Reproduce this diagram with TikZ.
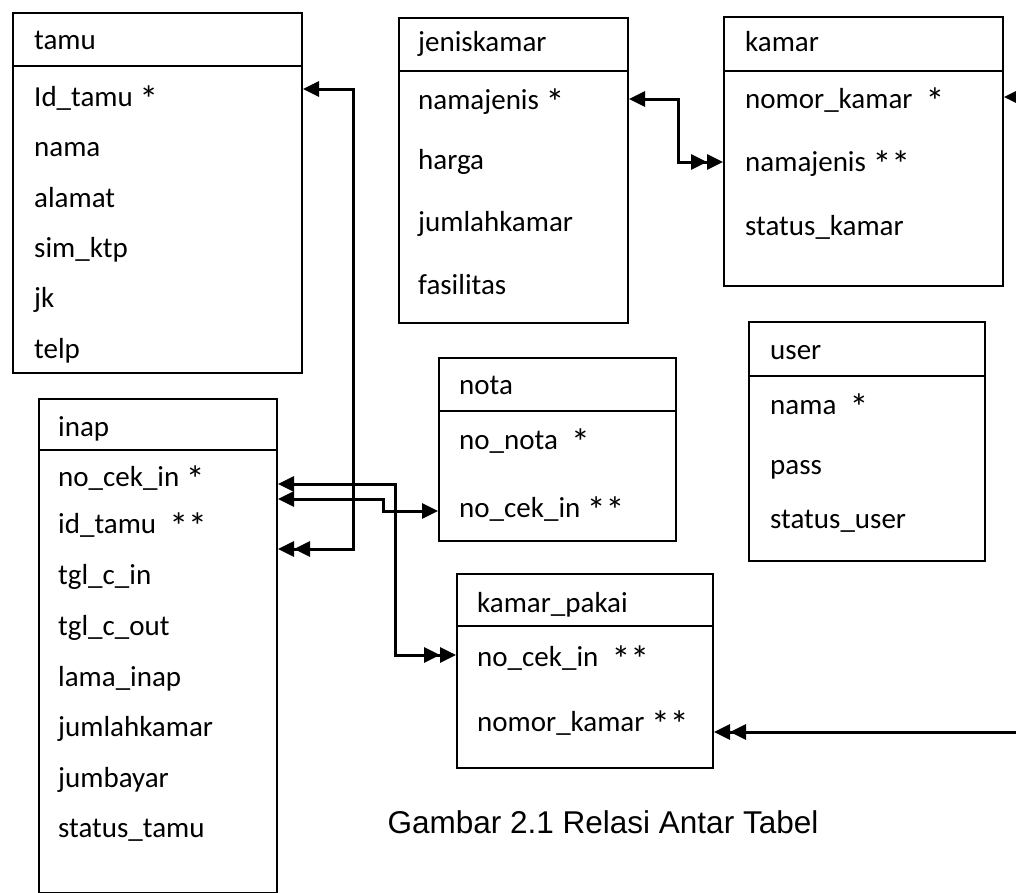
\documentclass[tikz,border=0pt]{standalone}
\usepackage{fontspec}
\usepackage{graphicx}
\setmainfont{Carlito}
\newfontfamily\capfont{Liberation Sans}
\usetikzlibrary{arrows.meta}
\newcommand\st{\smash{\raisebox{-0.22em}{\scalebox{1.3}{*}}}}
\begin{document}
\begin{tikzpicture}[x=1pt,y=-1pt,
  tbl/.style={draw=black,line width=2pt,anchor=north west,inner sep=0pt,fill=none},
  fld/.style={anchor=base west,inner sep=0pt,font=\fontsize{29}{31}\selectfont},
  conn/.style={line width=3pt,line cap=butt,line join=miter},
  T/.tip={Triangle[length=16pt,width=15pt]}
]
\useasboundingbox (0,0) rectangle (1016,892);
% tamu
\node[tbl,minimum width=289pt,minimum height=360pt] (tamu) at (12,12) {};
\draw[line width=2pt] (tamu.west |- 0,66) -- (tamu.east |- 0,66);
\node[fld] (tamuT) at (34,49) {tamu};
\node[fld] (tamu1) at (34,106) {Id\_tamu \st};
\node[fld] (tamu2) at (34,156) {nama};
\node[fld] (tamu3) at (34,207) {alamat};
\node[fld] (tamu4) at (34,257) {sim\_ktp};
\node[fld] (tamu5) at (34,307) {jk};
\node[fld] (tamu6) at (34,358) {telp};
% jeniskamar
\node[tbl,minimum width=229pt,minimum height=305pt] (jk) at (398,17) {};
\draw[line width=2pt] (jk.west |- 0,71) -- (jk.east |- 0,71);
\node[fld] (jkT) at (418,51) {jeniskamar};
\node[fld] (jk1) at (418,109) {namajenis \st};
\node[fld] (jk2) at (418,169) {harga};
\node[fld] (jk3) at (418,231) {jumlahkamar};
\node[fld] (jk4) at (418,294) {fasilitas};
% kamar
\node[tbl,minimum width=279pt,minimum height=269pt] (kamar) at (723,16) {};
\draw[line width=2pt] (kamar.west |- 0,71) -- (kamar.east |- 0,71);
\node[fld] (kamarT) at (745,51) {kamar};
\node[fld] (kamar1) at (745,108) {nomor\_kamar\ \ \st};
\node[fld] (kamar2) at (745,171) {namajenis \st\st};
\node[fld] (kamar3) at (745,235) {status\_kamar};
% user
\node[tbl,minimum width=236pt,minimum height=239pt] (user) at (748,321) {};
\draw[line width=2pt] (user.west |- 0,376) -- (user.east |- 0,376);
\node[fld] (userT) at (770,359) {user};
\node[fld] (user1) at (770,414) {nama\ \ \st};
\node[fld] (user2) at (770,474) {pass};
\node[fld] (user3) at (770,528) {status\_user};
% nota
\node[tbl,minimum width=237pt,minimum height=183pt] (nota) at (438,357) {};
\draw[line width=2pt] (nota.west |- 0,411) -- (nota.east |- 0,411);
\node[fld] (notaT) at (459,394) {nota};
\node[fld] (nota1) at (459,449) {no\_nota\ \ \st};
\node[fld] (nota2) at (459,517) {no\_cek\_in \st\st};
% inap
\node[tbl,minimum width=238pt,minimum height=494pt] (inap) at (38,398) {};
\draw[line width=2pt] (inap.west |- 0,450) -- (inap.east |- 0,450);
\node[fld] (inapT) at (58,436) {inap};
\node[fld] (inap1) at (58,486) {no\_cek\_in \st};
\node[fld] (inap2) at (58,533) {id\_tamu\ \ \st\st};
\node[fld] (inap3) at (58,584) {tgl\_c\_in};
\node[fld] (inap4) at (58,635) {tgl\_c\_out};
\node[fld] (inap5) at (58,686) {lama\_inap};
\node[fld] (inap6) at (58,736) {jumlahkamar};
\node[fld] (inap7) at (58,787) {jumbayar};
\node[fld] (inap8) at (58,837) {status\_tamu};
% kamar_pakai
\node[tbl,minimum width=256pt,minimum height=194pt] (kp) at (456,573) {};
\draw[line width=2pt] (kp.west |- 0,626) -- (kp.east |- 0,626);
\node[fld] (kpT) at (477,612) {kamar\_pakai};
\node[fld] (kp1) at (477,666) {no\_cek\_in\ \ \st\st};
\node[fld] (kp2) at (477,731) {nomor\_kamar \st\st};
% caption
\node[font=\capfont\fontsize{31.5}{34}\selectfont,inner sep=0pt] (cap) at (603,822) {Gambar 2.1 Relasi Antar Tabel};
% free ends at the picture edge
\coordinate (edgeK) at (1016,97);
\coordinate (edgeKP) at (1016,732);
% connectors
\draw[conn,{T}-{T[]T}] (tamu.east |- 0,89) -- (353,89) -- (353,549) -- (inap.east |- 0,549);
\draw[conn,{T}-{T}] (inap.east |- 0,499) -- (383,499) -- (383,511) -- (nota.west |- 0,511);
\draw[conn,{T}-{T[]T}] (inap.east |- 0,484) -- (395,484) -- (395,655) -- (kp.west |- 0,655);
\draw[conn,{T}-{T[]T}] (jk.east |- 0,99) -- (678,99) -- (678,162) -- (kamar.west |- 0,162);
\draw[conn,-{T}] (edgeK) -- (kamar.east |- edgeK);
\draw[conn,-{T[]T}] (edgeKP) -- (kp.east |- edgeKP);
\end{tikzpicture}
\end{document}
